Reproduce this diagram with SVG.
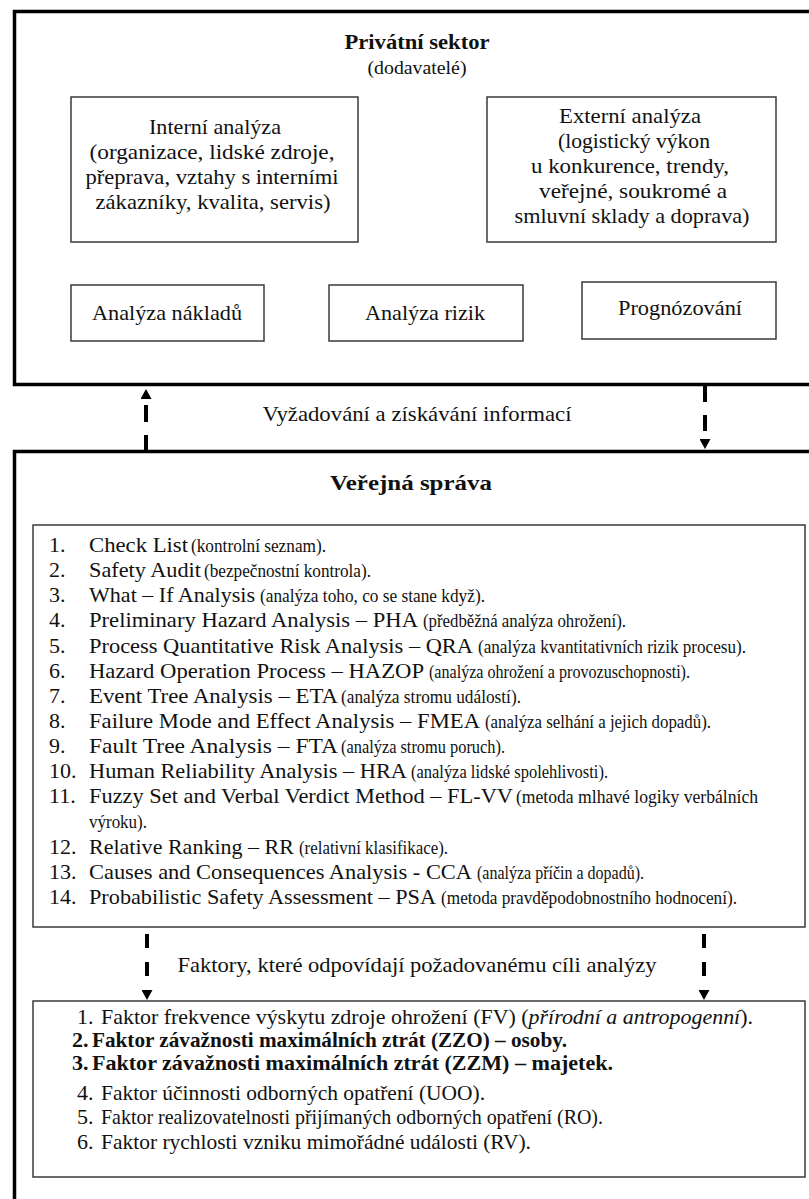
<svg xmlns="http://www.w3.org/2000/svg" width="809" height="1199" viewBox="0 0 809 1199" font-family="'Liberation Serif', serif">
<style>
  text { font-family: "Liberation Serif", "Times New Roman", serif; fill: #111; }
  .outer { fill: none; stroke: #000; stroke-width: 3.5; }
  .box { fill: #fff; stroke: #3a3a3a; stroke-width: 1.5; }
  .b { font-weight: bold; }
  .m { font-size: 22px; }
  .li { font-size: 22px; }
  .cm { font-size: 18px; }
  .fl { font-size: 22px; }
  .c { text-anchor: middle; }
  .conn { fill: none; stroke: #000; stroke-width: 4; }
</style>
<defs>
  <marker id="arrow" viewBox="0 0 10 11" refX="0" refY="5.5" markerWidth="10" markerHeight="11" markerUnits="userSpaceOnUse" orient="auto">
    <path d="M0,0 L10,5.5 L0,11 Z" fill="#000"/>
  </marker>
</defs>
<rect x="0" y="0" width="809" height="1199" fill="#fff"/>

<g id="privatni-sektor">
  <rect class="outer" x="14.5" y="11.5" width="820" height="373"/>
  <text class="b m c" x="417" y="49" textLength="145" lengthAdjust="spacingAndGlyphs">Privátní sektor</text>
  <text class="c" style="font-size:19px" x="417" y="74" textLength="99" lengthAdjust="spacingAndGlyphs">(dodavatelé)</text>
</g>

<g id="interni-analyza">
  <rect class="box" x="71" y="97" width="287" height="145"/>
  <text class="m c" x="215" y="134" textLength="132" lengthAdjust="spacingAndGlyphs">Interní analýza</text>
  <text class="m c" x="212" y="159" textLength="245" lengthAdjust="spacingAndGlyphs">(organizace, lidské zdroje,</text>
  <text class="m c" x="212" y="184" textLength="253" lengthAdjust="spacingAndGlyphs">přeprava, vztahy s interními</text>
  <text class="m c" x="213" y="209" textLength="235" lengthAdjust="spacingAndGlyphs">zákazníky, kvalita, servis)</text>
</g>

<g id="externi-analyza">
  <rect class="box" x="487" y="97" width="289" height="145"/>
  <text class="m c" x="630" y="123" textLength="142" lengthAdjust="spacingAndGlyphs">Externí analýza</text>
  <text class="m c" x="634" y="148" textLength="152" lengthAdjust="spacingAndGlyphs">(logistický výkon</text>
  <text class="m c" x="630" y="173" textLength="198" lengthAdjust="spacingAndGlyphs">u konkurence, trendy,</text>
  <text class="m c" x="633" y="198" textLength="188" lengthAdjust="spacingAndGlyphs">veřejné, soukromé a</text>
  <text class="m c" x="632" y="223" textLength="235" lengthAdjust="spacingAndGlyphs">smluvní sklady a doprava)</text>
</g>

<g id="analyza-nakladu">
  <rect class="box" x="71" y="285" width="193" height="56"/>
  <text class="m c" x="167" y="320" textLength="150" lengthAdjust="spacingAndGlyphs">Analýza nákladů</text>
</g>

<g id="analyza-rizik">
  <rect class="box" x="329" y="285" width="194" height="56"/>
  <text class="m c" x="425" y="320" textLength="120" lengthAdjust="spacingAndGlyphs">Analýza rizik</text>
</g>

<g id="prognozovani">
  <rect class="box" x="582" y="282" width="194" height="57"/>
  <text class="m c" x="680" y="315" textLength="124" lengthAdjust="spacingAndGlyphs">Prognózování</text>
</g>

<g id="verejna-sprava">
  <rect class="outer" x="14.5" y="451.5" width="820" height="800"/>
  <text class="b m c" x="411" y="490" textLength="162" lengthAdjust="spacingAndGlyphs">Veřejná správa</text>
</g>

<g id="metody-analyzy">
  <rect class="box" x="33" y="525" width="772" height="402"/>
  <g class="li">
    <text x="49" y="552">1.</text>
    <text x="49" y="577">2.</text>
    <text x="49" y="602">3.</text>
    <text x="49" y="627">4.</text>
    <text x="49" y="653">5.</text>
    <text x="49" y="678">6.</text>
    <text x="49" y="703">7.</text>
    <text x="49" y="728">8.</text>
    <text x="49" y="753">9.</text>
    <text x="49" y="778">10.</text>
    <text x="49" y="803">11.</text>
    <text x="49" y="854">12.</text>
    <text x="49" y="879">13.</text>
    <text x="49" y="904">14.</text>

    <text x="89" y="552" textLength="99" lengthAdjust="spacingAndGlyphs">Check List</text>
    <text x="89" y="577" textLength="112" lengthAdjust="spacingAndGlyphs">Safety Audit</text>
    <text x="89" y="602" textLength="166" lengthAdjust="spacingAndGlyphs">What – If Analysis</text>
    <text x="89" y="627" textLength="329" lengthAdjust="spacingAndGlyphs">Preliminary Hazard Analysis – PHA</text>
    <text x="89" y="653" textLength="384" lengthAdjust="spacingAndGlyphs">Process Quantitative Risk Analysis – QRA</text>
    <text x="89" y="678" textLength="335" lengthAdjust="spacingAndGlyphs">Hazard Operation Process – HAZOP</text>
    <text x="89" y="703" textLength="249" lengthAdjust="spacingAndGlyphs">Event Tree Analysis – ETA</text>
    <text x="89" y="728" textLength="391" lengthAdjust="spacingAndGlyphs">Failure Mode and Effect Analysis – FMEA</text>
    <text x="89" y="753" textLength="249" lengthAdjust="spacingAndGlyphs">Fault Tree Analysis – FTA</text>
    <text x="89" y="778" textLength="318" lengthAdjust="spacingAndGlyphs">Human Reliability Analysis – HRA</text>
    <text x="89" y="803" textLength="424" lengthAdjust="spacingAndGlyphs">Fuzzy Set and Verbal Verdict Method – FL-VV</text>
    <text x="89" y="854" textLength="205" lengthAdjust="spacingAndGlyphs">Relative Ranking – RR</text>
    <text x="89" y="879" textLength="383" lengthAdjust="spacingAndGlyphs">Causes and Consequences Analysis - CCA</text>
    <text x="89" y="904" textLength="347" lengthAdjust="spacingAndGlyphs">Probabilistic Safety Assessment – PSA</text>
  </g>
  <g class="cm">
    <text x="191" y="552" textLength="135" lengthAdjust="spacingAndGlyphs">(kontrolní seznam).</text>
    <text x="204" y="577" textLength="167" lengthAdjust="spacingAndGlyphs">(bezpečnostní kontrola).</text>
    <text x="260" y="602" textLength="225" lengthAdjust="spacingAndGlyphs">(analýza toho, co se stane když).</text>
    <text x="423" y="627" textLength="203" lengthAdjust="spacingAndGlyphs">(předběžná analýza ohrožení).</text>
    <text x="478" y="653" textLength="268" lengthAdjust="spacingAndGlyphs">(analýza kvantitativních rizik procesu).</text>
    <text x="429" y="678" textLength="261" lengthAdjust="spacingAndGlyphs">(analýza ohrožení a provozuschopnosti).</text>
    <text x="341" y="703" textLength="180" lengthAdjust="spacingAndGlyphs">(analýza stromu událostí).</text>
    <text x="485" y="728" textLength="226" lengthAdjust="spacingAndGlyphs">(analýza selhání a jejich dopadů).</text>
    <text x="341" y="753" textLength="164" lengthAdjust="spacingAndGlyphs">(analýza stromu poruch).</text>
    <text x="411" y="778" textLength="197" lengthAdjust="spacingAndGlyphs">(analýza lidské spolehlivosti).</text>
    <text x="516" y="803" textLength="242" lengthAdjust="spacingAndGlyphs">(metoda mlhavé logiky verbálních</text>
    <text x="89" y="828" textLength="58" lengthAdjust="spacingAndGlyphs">výroku).</text>
    <text x="299" y="854" textLength="149" lengthAdjust="spacingAndGlyphs">(relativní klasifikace).</text>
    <text x="477" y="879" textLength="167" lengthAdjust="spacingAndGlyphs">(analýza příčin a dopadů).</text>
    <text x="441" y="904" textLength="296" lengthAdjust="spacingAndGlyphs">(metoda pravděpodobnostního hodnocení).</text>
  </g>
</g>

<g id="faktory">
  <rect class="box" x="33" y="1001" width="772" height="176"/>
  <g class="fl">
    <text x="77" y="1024">1.</text>
    <text x="101" y="1024" textLength="652" lengthAdjust="spacingAndGlyphs">Faktor frekvence výskytu zdroje ohrožení (FV) (<tspan font-style="italic">přírodní a antropogenní</tspan>).</text>
    <text class="b" x="72" y="1047">2.</text>
    <text class="b" x="92" y="1047" textLength="475" lengthAdjust="spacingAndGlyphs">Faktor závažnosti maximálních ztrát (ZZO) – osoby.</text>
    <text class="b" x="72" y="1070">3.</text>
    <text class="b" x="92" y="1070" textLength="521" lengthAdjust="spacingAndGlyphs">Faktor závažnosti maximálních ztrát (ZZM) – majetek.</text>
    <text x="77" y="1100">4.</text>
    <text x="101" y="1100" textLength="384" lengthAdjust="spacingAndGlyphs">Faktor účinnosti odborných opatření (UOO).</text>
    <text x="77" y="1124">5.</text>
    <text x="101" y="1124" textLength="502" lengthAdjust="spacingAndGlyphs">Faktor realizovatelnosti přijímaných odborných opatření (RO).</text>
    <text x="77" y="1149">6.</text>
    <text x="101" y="1149" textLength="430" lengthAdjust="spacingAndGlyphs">Faktor rychlosti vzniku mimořádné události (RV).</text>
  </g>
</g>

<g id="connectors">
  <path class="conn" d="M146 452 V399" stroke-dasharray="17 13" marker-end="url(#arrow)"/>
  <path class="conn" d="M705 386 V439" stroke-dasharray="16 13" marker-end="url(#arrow)"/>
  <path class="conn" d="M147 934 V990" stroke-dasharray="14 14" marker-end="url(#arrow)"/>
  <path class="conn" d="M704 934 V990" stroke-dasharray="14 14" marker-end="url(#arrow)"/>
  <text class="m c" x="417" y="421" textLength="309" lengthAdjust="spacingAndGlyphs">Vyžadování a získávání informací</text>
  <text class="m c" x="417" y="972" textLength="479" lengthAdjust="spacingAndGlyphs">Faktory, které odpovídají požadovanému cíli analýzy</text>
</g>
</svg>
